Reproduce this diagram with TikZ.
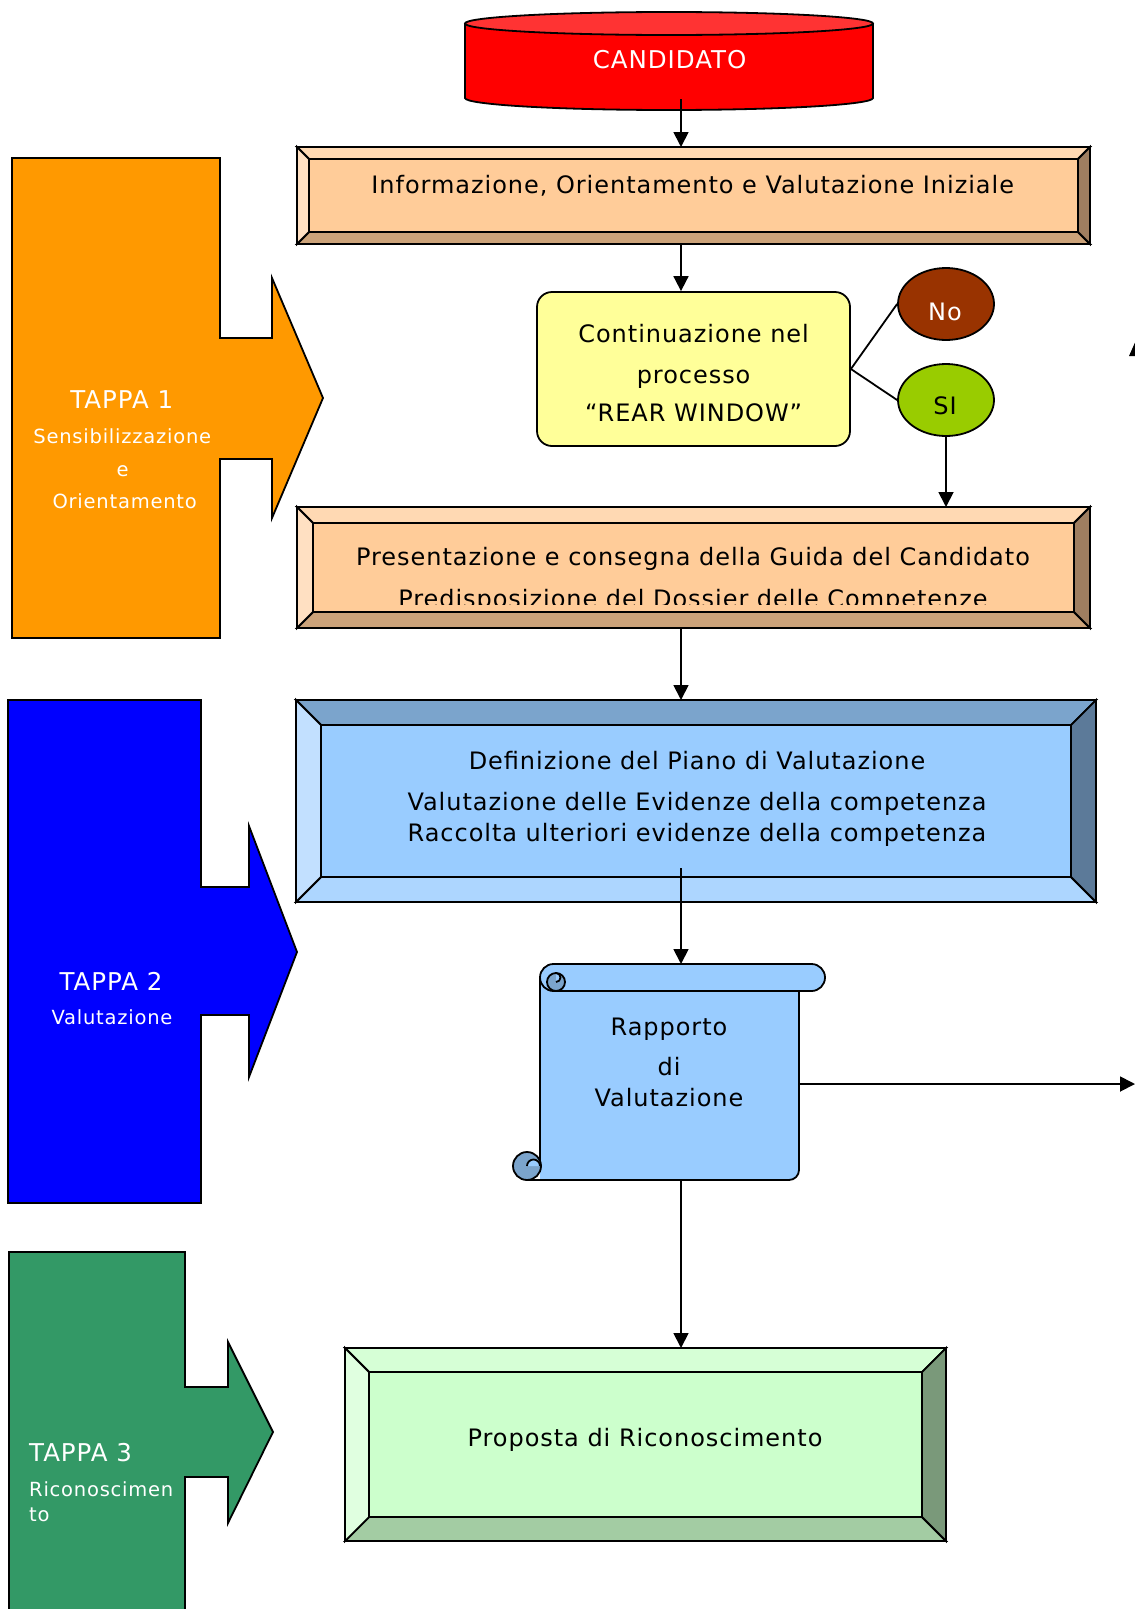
\documentclass[tikz,border=0pt]{standalone}
\usepackage{fontspec}
\setmainfont{DejaVu Sans}[LetterSpace=4]
\usetikzlibrary{arrows.meta,shapes.geometric}

\definecolor{tapone}{HTML}{FF9900}
\definecolor{taptwo}{HTML}{0000FF}
\definecolor{tapthree}{HTML}{339966}
\definecolor{cylred}{HTML}{FF0000}
\definecolor{cyltop}{HTML}{FF3333}
\definecolor{pchin}{HTML}{FFCC99}
\definecolor{pchtop}{HTML}{FFD9B3}
\definecolor{pchleft}{HTML}{FFE0C2}
\definecolor{pchbot}{HTML}{CCA37A}
\definecolor{pchright}{HTML}{9F7E60}
\definecolor{bluin}{HTML}{99CCFF}
\definecolor{blutop}{HTML}{7BA4CC}
\definecolor{bluleft}{HTML}{C2E0FF}
\definecolor{blubot}{HTML}{ADD6FF}
\definecolor{bluright}{HTML}{5C7A99}
\definecolor{grnin}{HTML}{CCFFCC}
\definecolor{grntop}{HTML}{D6FFD6}
\definecolor{grnleft}{HTML}{E0FFE0}
\definecolor{grnbot}{HTML}{A3CCA3}
\definecolor{grnright}{HTML}{7A997A}
\definecolor{yelbox}{HTML}{FFFF99}
\definecolor{nocol}{HTML}{993300}
\definecolor{sicol}{HTML}{99CC00}
\definecolor{scrl}{HTML}{99CCFF}
\definecolor{scrdark}{HTML}{7BA4CC}

\newcommand{\fA}{\fontsize{24pt}{28pt}\selectfont}
\newcommand{\fT}{\fontsize{24.5pt}{28pt}\selectfont}
\newcommand{\fS}{\fontsize{19.5pt}{24pt}\selectfont}

\tikzset{
  ol/.style={draw=black, line width=1.8pt, line join=miter},
  arr/.style={draw=black, line width=1.8pt, -{Triangle[length=15pt,width=15pt]}},
  conn/.style={draw=black, line width=1.8pt},
  txt/.style={anchor=base, inner sep=0pt, font=\fA, text=black},
  wtxt/.style={anchor=base, inner sep=0pt, font=\fT, text=white},
  wsub/.style={anchor=base, inner sep=0pt, font=\fS, text=white},
  area/.style={inner sep=0pt, outer sep=0pt}
}

% #1 name, #2 x1, #3 y1, #4 x2, #5 y2, #6 bevel, #7 colour prefix
\newcommand{\bevbox}[7]{%
  \filldraw[ol, fill=#7in] (#2,#3) rectangle (#4,#5);
  \filldraw[ol, fill=#7top] (#2,#3) -- (#4,#3) -- (#4-#6,#3+#6) -- (#2+#6,#3+#6) -- cycle;
  \filldraw[ol, fill=#7bot] (#2,#5) -- (#4,#5) -- (#4-#6,#5-#6) -- (#2+#6,#5-#6) -- cycle;
  \filldraw[ol, fill=#7left] (#2,#3) -- (#2+#6,#3+#6) -- (#2+#6,#5-#6) -- (#2,#5) -- cycle;
  \filldraw[ol, fill=#7right] (#4,#3) -- (#4-#6,#3+#6) -- (#4-#6,#5-#6) -- (#4,#5) -- cycle;
  \node[area, minimum width={(#4-#2)*1pt}, minimum height={(#5-#3)*1pt}] (#1) at ({(#2+#4)/2},{(#3+#5)/2}) {};
}

\begin{document}
\begin{tikzpicture}[x=1pt,y=-1pt]
\useasboundingbox (0,0) rectangle (1135,1609);
\clip (0,0) rectangle (1135,1609);
\fill[white] (0,0) rectangle (1135,1609);
\coordinate (ax) at (681,0);
\coordinate (edge) at (1135,0);

% ---------- TAPPA arrows ----------
\filldraw[ol, fill=tapone] (12,158) -- (220,158) -- (220,338) -- (272,338) -- (272,278) -- (323,398)
  -- (272,518) -- (272,459) -- (220,459) -- (220,638) -- (12,638) -- cycle;
\node[wtxt] (tp1) at (121.7,408) {TAPPA 1};
\node[wsub] (tp1a) at (122.3,443) {Sensibilizzazione};
\node[wsub] (tp1b) at (122.7,476.5) {e};
\node[wsub] (tp1c) at (124.7,508) {Orientamento};

\filldraw[ol, fill=taptwo] (8,700) -- (201,700) -- (201,887) -- (249,887) -- (249,826) -- (297,952)
  -- (249,1077) -- (249,1015) -- (201,1015) -- (201,1203) -- (8,1203) -- cycle;
\node[wtxt] (tp2) at (111,990) {TAPPA 2};
\node[wsub] (tp2a) at (112,1024) {Valutazione};

\filldraw[ol, fill=tapthree] (9,1252) -- (185,1252) -- (185,1387) -- (228,1387) -- (228,1342) -- (273,1432)
  -- (228,1523) -- (228,1477) -- (185,1477) -- (185,1625) -- (9,1625) -- cycle;
\node[wtxt, anchor=base west] (tp3) at (29,1461.5) {TAPPA 3};
\node[wsub, anchor=base west] (tp3a) at (29,1496.5) {Riconoscimen};
\node[wsub, anchor=base west] (tp3b) at (29,1521.5) {to};

% ---------- Cylinder ----------
\fill[cylred] (465,23.5) rectangle (873,98);
\fill[cylred] (669,98) ellipse [x radius=204, y radius=12];
\draw[ol] (465,23.5) -- (465,98) arc[start angle=180, end angle=0, x radius=204, y radius=12] -- (873,23.5);
\filldraw[ol, fill=cyltop] (669,23.5) ellipse [x radius=204, y radius=11.5];
\node[area, minimum width=408pt, minimum height=87pt] (cyl) at (669,55.5) {};
\node[anchor=base, inner sep=0pt, font=\fT, text=white] (tcyl) at (669.6,68) {CANDIDATO};

% ---------- Box 1 ----------
\bevbox{b1}{297}{147}{1090}{244}{12}{pch}
\node[txt] (tb1) at (692.7,193) {Informazione, Orientamento e Valutazione Iniziale};

% ---------- Continuazione ----------
\node[draw=black, line width=1.8pt, fill=yelbox, rounded corners=15pt, minimum width=313pt,
  minimum height=154pt, inner sep=0pt] (cont) at (693.5,369) {};
\node[txt] (tc1) at (693.6,342) {Continuazione nel};
\node[txt] (tc2) at (693.6,383) {processo};
\node[txt] (tc3) at (693.6,421) {“REAR WINDOW”};

\node[ellipse, draw=black, line width=1.8pt, fill=nocol, minimum width=96pt, minimum height=72pt, inner sep=0pt] (no) at (946,304) {};
\node[anchor=base, inner sep=0pt, font=\fA, text=white] (tno) at (945,320) {No};
\node[ellipse, draw=black, line width=1.8pt, fill=sicol, minimum width=96pt, minimum height=72pt, inner sep=0pt] (si) at (946,400) {};
\node[txt] (tsi) at (945,414) {SI};

% ---------- Presentazione ----------
\bevbox{pres}{297}{507}{1090}{628}{16}{pch}
\node[txt] (tp1l) at (693,565) {Presentazione e consegna della Guida del Candidato};
\begin{scope}
  \clip (313,523) rectangle (1074,604);
  \node[txt] (tp2l) at (693,607) {Predisposizione del Dossier delle Competenze};
\end{scope}

% ---------- Definizione ----------
\bevbox{def}{296}{700}{1096}{902}{25}{blu}
\node[txt] (td1) at (697,769) {Definizione del Piano di Valutazione};
\node[txt] (td2) at (697,810) {Valutazione delle Evidenze della competenza};
\node[txt] (td3) at (697,841.5) {Raccolta ulteriori evidenze della competenza};

% ---------- Scroll ----------
\fill[scrl] (540,978) -- (540,1180) -- (789,1180) arc[start angle=90, end angle=0, radius=10] -- (799,978) -- cycle;
\draw[ol] (540,978) -- (540,1166);
\draw[ol] (527,1180) -- (789,1180) arc[start angle=90, end angle=0, radius=10] -- (799,991);
\filldraw[ol, fill=scrdark] (527,1166) circle[radius=14];
\filldraw[ol, fill=scrl] (527,1166) arc[start angle=180, end angle=360, radius=6.5] -- (540,1166);
\filldraw[ol, fill=scrl, rounded corners=13.5pt] (540,964) rectangle (825,991);
\filldraw[ol, fill=scrdark] (556,982) circle[radius=9];
\filldraw[ol, fill=scrl] (556,973) arc[start angle=270, end angle=450, radius=4.5];
\node[area, minimum width=259pt, minimum height=216pt] (rap) at (669.5,1072) {};
\node[txt] (tr1) at (669,1035) {Rapporto};
\node[txt] (tr2) at (669,1075) {di};
\node[txt] (tr3) at (669,1106.5) {Valutazione};

% ---------- Proposta ----------
\bevbox{prop}{345}{1348}{946}{1541}{24}{grn}
\node[txt] (tpr) at (645,1446.5) {Proposta di Riconoscimento};

% ---------- Connectors ----------
\draw[arr] (cyl.south -| ax) -- (b1.north -| ax);
\draw[arr] (b1.south -| ax) -- (cont.north -| ax);
\draw[conn] (cont.east) -- (no.west);
\draw[conn] (cont.east) -- (si.west);
\draw[arr] (si.south) -- (pres.north -| si.south);
\draw[arr] (pres.south -| ax) -- (def.north -| ax);
\path (def.south -| ax) ++(0,-34) coordinate (defs);
\draw[arr] (defs) -- (rap.north -| ax);
\path (rap.east) ++(0,12) coordinate (rape);
\draw[arr] (rape) -- (rape -| edge);
\draw[arr] (rap.south -| ax) -- (prop.north -| ax);

% partial arrowhead at the right edge
\fill[black] (1129,356) -- (1137,338) -- (1145,356) -- cycle;
\end{tikzpicture}
\end{document}
